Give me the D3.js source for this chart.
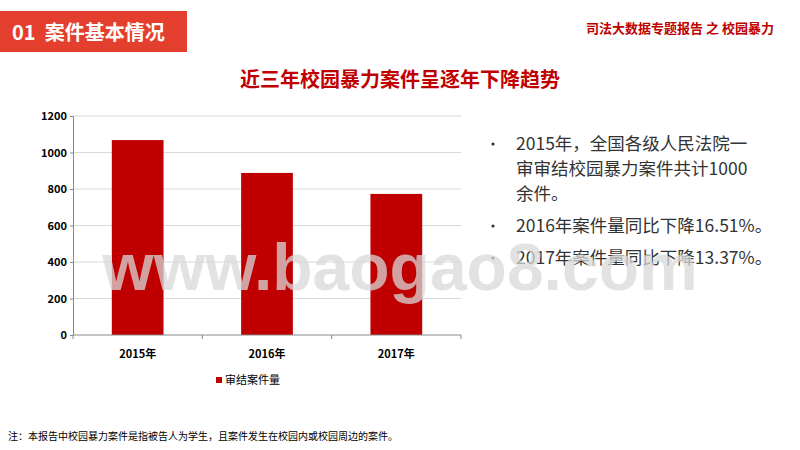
<!DOCTYPE html><html><head><meta charset="utf-8"><script src="https://cdn.jsdelivr.net/npm/d3@7"></script>
<style>body{margin:0;background:#fff}svg{display:block}</style></head><body><svg id="c" width="800" height="450"></svg>
<script>
const categories=["2015年","2016年","2017年"];
const values=[1068,888,773];
const yTicks=[0,200,400,600,800,1000,1200];
const seriesName="审结案件量";
const bullets=[["2015年，全国各级人民法院一","审审结校园暴力案件共计1000","余件。"],["2016年案件量同比下降16.51%。"],["2017年案件量同比下降13.37%。"]];
const F="'Microsoft YaHei','Noto Sans CJK SC',sans-serif";
const svg=d3.select("#c");
svg.append("rect").attr("x",0).attr("y",11).attr("width",187).attr("height",41).attr("fill","#e43f2e");
svg.append("text").attr("x",12).attr("y",40).attr("fill","#fff").attr("font-family",F).attr("font-weight","bold").attr("font-size",20).attr("xml:space","preserve").text("01  案件基本情况");
svg.append("text").attr("x",774).attr("y",33).attr("text-anchor","end").attr("fill","#c00000").attr("font-family",F).attr("font-weight","bold").attr("font-size",13).text("司法大数据专题报告 之 校园暴力");
svg.append("text").attr("x",400).attr("y",87).attr("text-anchor","middle").attr("fill","#c00000").attr("font-family",F).attr("font-weight","bold").attr("font-size",20).text("近三年校园暴力案件呈逐年下降趋势");
const x=d3.scaleBand().domain(categories).range([73,461]).paddingInner(0.6).paddingOuter(0.3);
const y=d3.scaleLinear().domain([0,1200]).range([335,116]);
const g=svg.append("g");
g.selectAll("line.grid").data(yTicks.slice(1)).join("line").attr("x1",73).attr("x2",461).attr("y1",d=>y(d)).attr("y2",d=>y(d)).attr("stroke","#d9d9d9");
g.selectAll("rect.bar").data(values).join("rect").attr("x",(d,i)=>x(categories[i])).attr("width",x.bandwidth()).attr("y",d=>y(d)).attr("height",d=>y(0)-y(d)).attr("fill","#c00000");
const ya=svg.append("g").attr("transform","translate(73,0)").call(d3.axisLeft(y).tickValues(yTicks).tickSize(3).tickFormat(d3.format("d")));
ya.selectAll("text").attr("font-family",F).attr("font-weight","bold").attr("font-size",11).attr("fill","#000");
ya.selectAll("path,line").attr("stroke","#888");
const xb=d3.scalePoint().domain([0,1,2,3]).range([73,461]);
svg.append("line").attr("x1",73).attr("x2",461).attr("y1",335).attr("y2",335).attr("stroke","#888");
svg.selectAll("line.xt").data([0,1,2,3]).join("line").attr("x1",d=>xb(d)).attr("x2",d=>xb(d)).attr("y1",335).attr("y2",339).attr("stroke","#888");
svg.selectAll("text.xl").data(categories).join("text").attr("x",d=>x(d)+x.bandwidth()/2).attr("y",358).attr("text-anchor","middle").attr("font-family",F).attr("font-weight","bold").attr("font-size",11).text(d=>d);
svg.append("rect").attr("x",216).attr("y",377).attr("width",6).attr("height",6).attr("fill","#c00000");
svg.append("text").attr("x",225).attr("y",384).attr("font-family",F).attr("font-size",11).text(seriesName);
let yy=150;
bullets.forEach(b=>{svg.append("circle").attr("cx",493).attr("cy",yy-6).attr("r",1.6).attr("fill","#333");
b.forEach(l=>{svg.append("text").attr("x",516).attr("y",yy).attr("font-family",F).attr("font-size",17.5).attr("fill","#333").text(l);yy+=25;});yy+=7;});
svg.append("text").attr("x",8).attr("y",440).attr("font-family",F).attr("font-size",10).text("注：本报告中校园暴力案件是指被告人为学生，且案件发生在校园内或校园周边的案件。");
svg.append("text").attr("x",400).attr("y",290).attr("text-anchor","middle").attr("font-family","'Liberation Sans',Arial,sans-serif").attr("font-weight","bold").attr("font-size",66).attr("fill","#d8d8d8").attr("fill-opacity",0.75).text("www.baogao8.com");
</script></body></html>
